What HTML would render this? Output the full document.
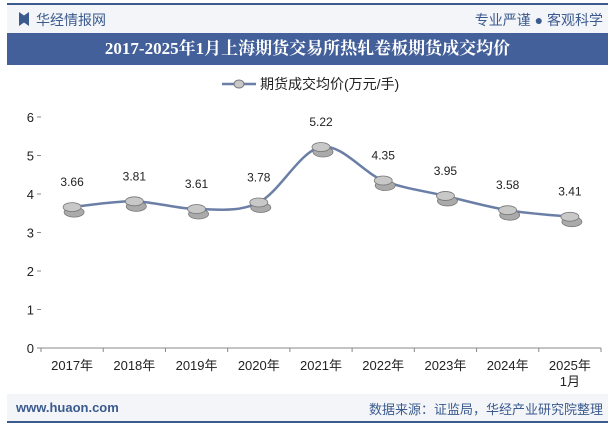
<!DOCTYPE html>
<html><head><meta charset="utf-8"><style>
body{margin:0;width:615px;height:427px;background:#fff;font-family:"Liberation Sans","Noto Sans CJK SC",sans-serif;overflow:hidden;position:relative}
</style></head><body>
<div style="position:absolute;left:7px;top:3px;width:601px;height:2px;background:#3b5a8e"></div>
<div style="position:absolute;left:7px;top:5px;width:601px;height:28px;background:#f3f5f9"></div>
<div style="position:absolute;left:19px;top:12px;width:10px;height:14px;background:#3b5a8e;clip-path:polygon(0 0,50% 25%,100% 0,100% 100%,50% 75%,0 100%)"></div>
<div style="position:absolute;left:36px;top:10px;font-size:14px;color:#3b5a8e">华经情报网</div>
<div style="position:absolute;right:12px;top:10px;font-size:14px;color:#3b5a8e">专业严谨 ● 客观科学</div>
<div style="position:absolute;left:7px;top:33px;width:601px;height:32px;background:#44609a;color:#fff;font-family:'Liberation Serif','Noto Serif CJK SC',serif;font-weight:bold;font-size:17px;line-height:32px;text-align:center">2017-2025年1月上海期货交易所热轧卷板期货成交均价</div>
<div style="position:absolute;left:7px;top:394px;width:601px;height:27px;background:#f3f5f9"></div>
<div style="position:absolute;left:16px;top:400px;font-size:13px;color:#3b5a8e;font-weight:bold">www.huaon.com</div>
<div style="position:absolute;right:12px;top:399px;font-size:13px;color:#3b5a8e">数据来源：证监局，华经产业研究院整理</div>
<div style="position:absolute;left:7px;top:421px;width:601px;height:2px;background:#3b5a8e"></div>
<svg id="chart" width="615" height="427" style="position:absolute;left:0;top:0"></svg>
<script>
const categories=["2017年","2018年","2019年","2020年","2021年","2022年","2023年","2024年","2025年"];
const values=[3.66,3.81,3.61,3.78,5.22,4.35,3.95,3.58,3.41];
const yTicks=[0,1,2,3,4,5,6];
const NS="http://www.w3.org/2000/svg";
const svg=document.getElementById('chart');
const L=41,R=601,Y0=348,Y6=117;
const step=(R-L)/categories.length;
const x=i=>L+step*(i+0.5);
const y=v=>Y0-(v/6)*(Y0-Y6);
function mk(t,a){const e=document.createElementNS(NS,t);for(const k in a)e.setAttribute(k,a[k]);svg.appendChild(e);return e;}
yTicks.forEach(t=>{
 const tx=mk('text',{x:34,y:y(t)+5,'text-anchor':'end','font-size':13,fill:'#222'});tx.textContent=t;
 
 
 const tk=mk('line',{x1:L-4,x2:L,y1:y(t),y2:y(t),stroke:'#888'});
 
 
});
const ax=mk('line',{x1:L,x2:R,y1:Y0,y2:Y0,stroke:'#888'});


for(let i=0;i<=categories.length;i++){const t=mk('line',{x1:L+step*i,x2:L+step*i,y1:Y0,y2:Y0+4,stroke:'#888'});
 
 }
categories.forEach((c,i)=>{
 const t=mk('text',{x:x(i),y:Y0+22,'text-anchor':'middle','font-size':13,fill:'#222'});t.textContent=c;
 
 
});
const t2=mk('text',{x:x(8),y:Y0+38,'text-anchor':'middle','font-size':13,fill:'#222'});t2.textContent="1月";


const pts=values.map((v,i)=>[x(i),y(v)]);
let d=`M${pts[0][0]},${pts[0][1]}`;
for(let i=0;i<pts.length-1;i++){const p0=pts[Math.max(i-1,0)],p1=pts[i],p2=pts[i+1],p3=pts[Math.min(i+2,pts.length-1)];
 d+=` C${p1[0]+(p2[0]-p0[0])/6},${p1[1]+(p2[1]-p0[1])/6} ${p2[0]-(p3[0]-p1[0])/6},${p2[1]-(p3[1]-p1[1])/6} ${p2[0]},${p2[1]}`;}
const path=mk('path',{d:d,fill:'none',stroke:'#6b7fa6','stroke-width':2.5});


pts.forEach((p,i)=>{
 const g=mk('ellipse',{cx:p[0]+2,cy:p[1]+5,rx:10,ry:5,fill:'#aaa',stroke:'#777','stroke-width':0.8});
 
 
 const m=mk('ellipse',{cx:p[0],cy:p[1],rx:9,ry:4.5,fill:'#c8c8c8',stroke:'#777','stroke-width':0.8});
 
 
 const t=mk('text',{x:p[0],y:p[1]-21,'text-anchor':'middle','font-size':12,fill:'#222'});t.textContent=values[i].toFixed(2);
 
 
});
const lg=mk('line',{x1:222,x2:256,y1:84,y2:84,stroke:'#6b7fa6','stroke-width':2.5});


const lm=mk('ellipse',{cx:239,cy:84,rx:5,ry:4,fill:'#c8c8c8',stroke:'#777'});


const lt=mk('text',{x:260,y:89,'font-size':14,fill:'#222'});lt.textContent="期货成交均价(万元/手)";


</script>
</body></html>
